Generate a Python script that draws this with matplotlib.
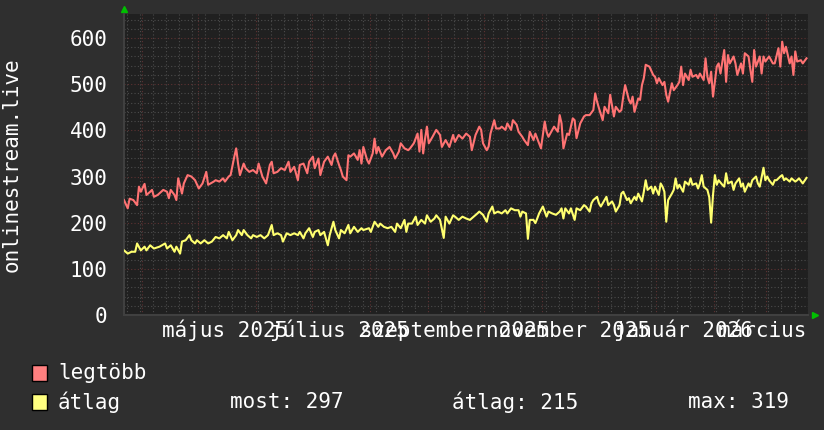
import matplotlib
matplotlib.use("Agg")
import matplotlib.pyplot as plt
import matplotlib.dates as mdates
import matplotlib.transforms as mtransforms
from matplotlib.patches import Rectangle
import pandas as pd

# days counted from the left edge of the graph
day0 = pd.Timestamp("2025-03-22 10:00")
span_days = 365.8

red_days = [0, 2, 3, 5, 7, 8, 9, 11, 12, 14, 15, 16, 18, 21, 23, 24, 25, 27, 28, 29,
            31, 32, 34, 36, 38, 40, 42, 44, 45, 48, 49, 51, 53, 54, 56, 57, 59, 60, 61, 62,
            64, 65, 67, 69, 71, 72, 74, 76, 78, 79, 80, 82, 84, 86, 88, 89, 91, 93, 94, 96,
            98, 99, 101, 102, 104, 105, 107, 109, 111, 112, 113, 115, 116, 117, 119, 120, 121, 123, 125, 126,
            127, 128, 130, 131, 133, 134, 135, 136, 138, 140, 142, 144, 145, 147, 148, 150, 152, 153, 155, 157,
            158, 159, 160, 161, 162, 163, 165, 167, 169, 170, 172, 174, 176, 177, 179, 181, 183, 185, 186, 188,
            190, 191, 192, 194, 195, 196, 198, 199, 201, 202, 204, 205, 207, 208, 210, 211, 213, 214, 216, 217,
            219, 220, 222, 223, 225, 226, 227, 229, 230, 232, 233, 234, 235, 237, 238, 240, 241, 242, 244, 246,
            247, 249, 251, 252, 253, 254, 256, 257, 259, 260, 262, 263, 265, 266, 267, 268, 270, 271, 272, 273,
            275, 276, 277, 278, 279, 281, 283, 284, 285, 286, 288, 289, 290, 291, 293, 294, 296, 297, 298, 299,
            300, 302, 303, 304, 306, 307, 308, 310, 311, 312, 313, 314, 315, 316, 317, 318, 319, 321, 322, 323,
            324, 326, 327, 328, 330, 331, 332, 334, 335, 336, 337, 338, 340, 341, 342, 343, 345, 347, 348, 350,
            351, 352, 353, 354, 356, 357, 358, 359, 360, 362, 363, 365]
red_vals = [249, 231, 252, 249, 238, 278, 267, 284, 260, 267, 271, 256, 260, 271, 267, 253, 271, 260, 249, 296,
            263, 285, 303, 300, 292, 274, 285, 310, 282, 289, 292, 289, 296, 289, 300, 303, 343, 361, 328, 303,
            328, 318, 310, 314, 307, 328, 300, 285, 325, 332, 307, 310, 318, 314, 332, 310, 321, 292, 325, 328,
            307, 332, 343, 318, 339, 303, 332, 343, 325, 343, 350, 325, 314, 300, 292, 346, 343, 350, 336, 357,
            328, 364, 336, 328, 350, 382, 350, 364, 343, 357, 364, 350, 339, 354, 372, 361, 357, 361, 372, 393,
            354, 401, 350, 382, 408, 372, 386, 401, 390, 364, 379, 364, 390, 375, 390, 382, 393, 386, 357, 390,
            408, 401, 372, 357, 365, 393, 422, 404, 404, 408, 401, 415, 401, 422, 412, 397, 386, 379, 368, 397,
            379, 393, 372, 361, 419, 397, 386, 401, 408, 397, 433, 415, 361, 393, 390, 426, 422, 383, 415, 430,
            433, 433, 444, 480, 462, 448, 422, 451, 437, 477, 430, 451, 440, 444, 473, 498, 466, 458, 473, 440,
            469, 466, 498, 513, 542, 538, 520, 516, 502, 513, 498, 505, 477, 462, 502, 487, 498, 505, 538, 498,
            523, 509, 531, 516, 520, 513, 523, 509, 556, 516, 502, 527, 473, 505, 538, 545, 523, 574, 505, 563,
            545, 560, 545, 520, 545, 523, 567, 560, 531, 505, 574, 538, 560, 523, 560, 549, 560, 545, 545, 578,
            538, 592, 567, 581, 545, 560, 520, 571, 549, 552, 545, 556]

yel_days = [0, 2, 4, 6, 7, 9, 11, 12, 14, 16, 19, 22, 23, 25, 27, 28, 30, 31, 33, 35,
            36, 38, 39, 41, 43, 45, 47, 49, 51, 53, 55, 56, 58, 60, 61, 63, 64, 66, 68, 69,
            71, 73, 75, 77, 79, 80, 82, 84, 85, 87, 89, 91, 93, 94, 96, 97, 99, 101, 102, 104,
            105, 107, 109, 110, 112, 113, 115, 116, 118, 120, 121, 123, 125, 127, 128, 131, 132, 134, 136, 137,
            139, 141, 143, 145, 146, 148, 150, 151, 152, 154, 156, 157, 159, 161, 162, 164, 166, 167, 169, 171,
            172, 174, 176, 177, 179, 181, 183, 185, 187, 189, 190, 192, 194, 195, 197, 198, 200, 202, 204, 205,
            207, 209, 211, 212, 213, 215, 216, 217, 219, 220, 221, 222, 224, 226, 227, 229, 231, 233, 234, 235,
            236, 238, 239, 241, 242, 244, 246, 247, 249, 250, 251, 253, 254, 255, 257, 258, 259, 261, 262, 263,
            265, 266, 267, 269, 270, 271, 273, 274, 275, 277, 278, 279, 280, 282, 283, 284, 286, 287, 288, 289,
            290, 291, 293, 294, 295, 296, 297, 299, 300, 302, 303, 304, 306, 307, 308, 309, 310, 312, 313, 314,
            315, 316, 317, 318, 320, 321, 322, 323, 325, 326, 327, 329, 330, 331, 332, 334, 335, 336, 338, 339,
            340, 342, 343, 344, 345, 347, 348, 349, 351, 352, 353, 354, 356, 357, 359, 360, 361, 363, 365]
yel_vals = [140, 133, 137, 137, 155, 140, 148, 140, 151, 144, 148, 155, 144, 151, 137, 148, 133, 159, 162, 173,
            162, 155, 162, 155, 162, 155, 159, 169, 166, 173, 166, 180, 162, 173, 184, 173, 184, 173, 166, 173,
            169, 173, 166, 173, 195, 173, 177, 173, 159, 177, 173, 177, 173, 180, 166, 177, 188, 169, 180, 184,
            173, 180, 151, 173, 202, 184, 166, 184, 177, 195, 177, 191, 180, 188, 184, 188, 180, 202, 191, 198,
            191, 188, 191, 180, 198, 188, 206, 180, 198, 198, 213, 195, 206, 198, 216, 202, 209, 216, 206, 167,
            213, 198, 216, 213, 206, 213, 209, 206, 213, 220, 224, 217, 202, 220, 235, 220, 224, 220, 227, 220,
            231, 227, 227, 213, 224, 220, 165, 206, 206, 199, 209, 220, 235, 213, 224, 220, 217, 224, 231, 209,
            231, 220, 231, 206, 231, 227, 238, 235, 224, 242, 249, 256, 242, 235, 249, 256, 238, 246, 238, 224,
            238, 263, 267, 249, 253, 242, 256, 249, 263, 246, 267, 292, 271, 278, 263, 278, 260, 285, 278, 267,
            202, 249, 263, 271, 296, 274, 282, 267, 289, 282, 296, 282, 285, 274, 285, 303, 278, 271, 255, 200,
            260, 303, 282, 292, 282, 278, 307, 285, 289, 271, 285, 296, 278, 285, 267, 285, 278, 292, 300, 285,
            278, 319, 292, 300, 292, 282, 292, 292, 300, 303, 292, 296, 289, 296, 289, 292, 296, 285, 297]

series_names = ["legtöbb", "átlag"]
series_colors = ["#ff7373", "#ffff70"]
legend_colors = ["#ff8080", "#ffff80"]
stat_texts = ["most: 297", "átlag: 215", "max: 319"]

month_labels = ["május 2025", "július 2025", "szeptember 2025",
                "november 2025", "január 2026", "március 2026"]
label_dates = ["2025-05-15 12:00", "2025-07-15 12:00", "2025-09-15 00:00",
               "2025-11-15 00:00", "2026-01-15 12:00", "2026-03-15 12:00"]
y_ticks = [0, 100, 200, 300, 400, 500, 600]
y_title = "onlinestream.live"

BG = "#2f2f2f"
CANVAS = "#202020"
FONT = "DejaVu Sans Mono"
FS = 15

W, H = 824, 430
fig = plt.figure(figsize=(W / 100, H / 100), dpi=100, facecolor=BG)
ax = fig.add_axes([124 / W, 1 - 315 / H, 684 / W, 301 / H], facecolor=CANVAS)

red_dates = day0 + pd.to_timedelta(red_days, unit="D")
yel_dates = day0 + pd.to_timedelta(yel_days, unit="D")
ax.plot(red_dates, red_vals, color=series_colors[0], lw=1.5, zorder=3)
ax.plot(yel_dates, yel_vals, color=series_colors[1], lw=1.5, zorder=3)

ax.set_xlim(day0, day0 + pd.Timedelta(days=span_days))
ax.set_ylim(0, 652)

# grid: weekly / 20 minor, monthly / 100 major
ax.xaxis.set_major_locator(mdates.MonthLocator())
ax.xaxis.set_minor_locator(mdates.WeekdayLocator(byweekday=mdates.MO))
ax.set_yticks(y_ticks)
ax.set_yticks(range(0, 652, 20), minor=True)
ax.grid(which="minor", color="#4c4c4c", lw=0.8, ls=(0, (1, 2)), zorder=1)
ax.grid(which="major", color="#5e3232", lw=0.8, ls=(0, (1, 2)), zorder=2)
ax.set_axisbelow(True)

ax.tick_params(axis="x", which="both", length=0, labelbottom=False)
ax.tick_params(axis="y", which="minor", length=0)
ax.tick_params(axis="y", which="major", length=0, pad=12, labelcolor="white",
               labelsize=FS)
for lbl in ax.get_yticklabels():
    lbl.set_fontfamily(FONT)

for side in ["top", "right"]:
    ax.spines[side].set_visible(False)
for side in ["left", "bottom"]:
    ax.spines[side].set_color("#404040")
    ax.spines[side].set_linewidth(1.5)

# month labels under the axis; the last one is cut at the graph's right edge
clip = mtransforms.Bbox.from_extents(0, 0, 809, H)
trans = mtransforms.blended_transform_factory(ax.transData, ax.transAxes)
for lab, d in zip(month_labels, label_dates):
    t = ax.text(pd.Timestamp(d), -0.052, lab, transform=trans, ha="center", va="center",
                color="white", fontsize=FS, family=FONT)
    t.set_clip_box(clip)
    t.set_clip_on(True)

# arrow heads at the axis ends
ax.plot([0], [1 + 5 / 301], marker="^", color="#00c000", ms=4, transform=ax.transAxes,
        clip_on=False)
ax.plot([1 + 7 / 684], [0], marker=">", color="#00c000", ms=4, transform=ax.transAxes,
        clip_on=False)

fig.text(12 / W, 1 - 165 / H, y_title, rotation=90, ha="center", va="center",
         color="white", fontsize=FS, family=FONT)

# legend
rows = [373, 402]
for name, col, yy in zip(series_names, legend_colors, rows):
    fig.patches.append(Rectangle((32 / W, 1 - (yy + 8) / H), 15 / W, 16 / H,
                                 transform=fig.transFigure, facecolor=col,
                                 edgecolor="black", lw=1))
    fig.text(58 / W, 1 - yy / H, name, ha="left", va="center", color="white",
             fontsize=FS, family=FONT)
for txt, xx in zip(stat_texts, [230, 452, 688]):
    fig.text(xx / W, 1 - rows[1] / H, txt, ha="left", va="center", color="white",
             fontsize=FS, family=FONT)

fig.savefig("out.png", dpi=100, facecolor=BG)
